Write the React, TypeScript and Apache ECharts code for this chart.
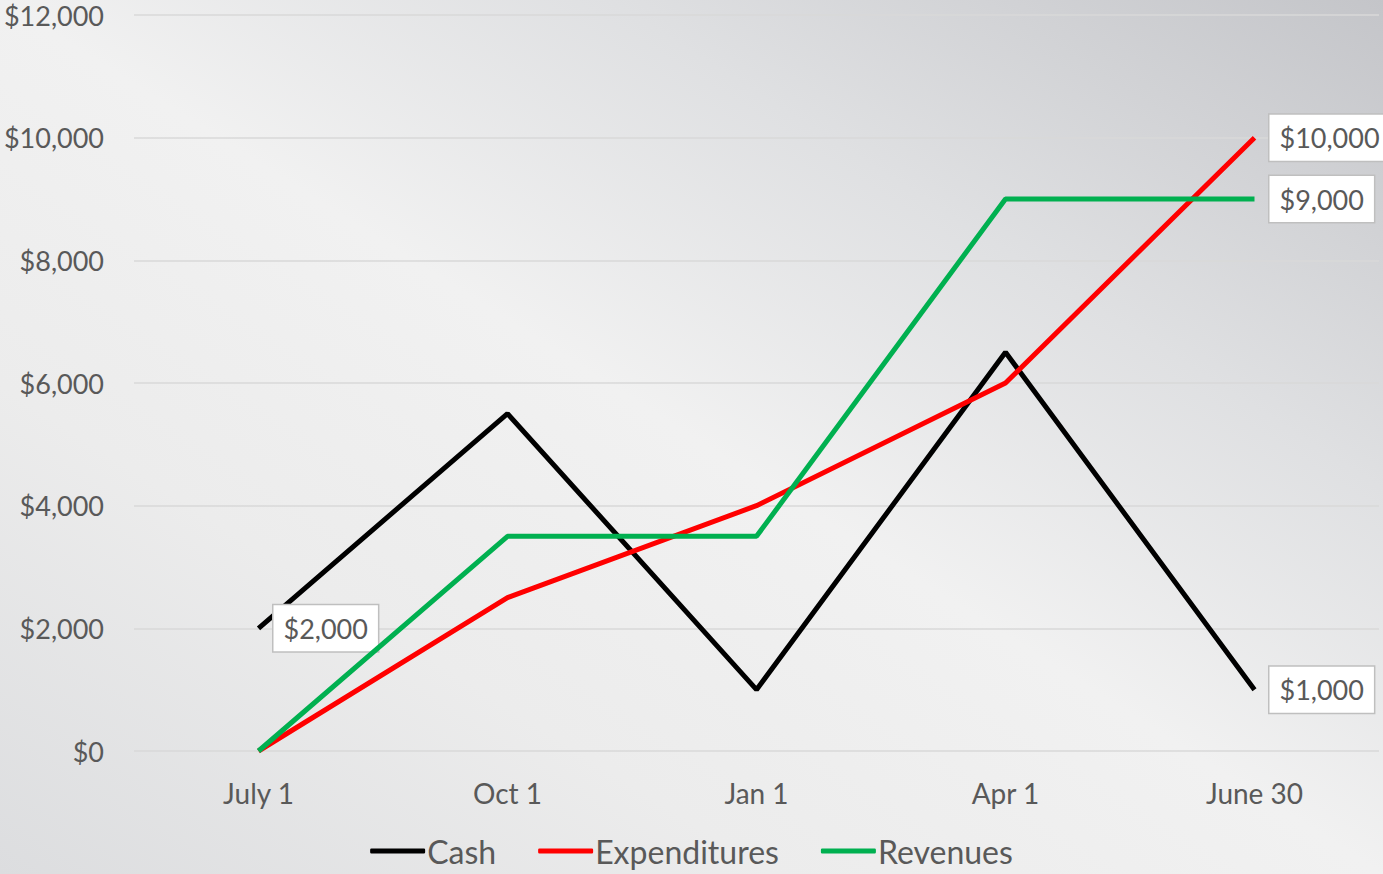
import React, { useEffect, useRef } from "react";
import * as echarts from "echarts";

const categories = ["July 1", "Oct 1", "Jan 1", "Apr 1", "June 30"];
const cashValues = [2000, 5500, 1000, 6500, 1000];
const expenditureValues = [0, 2500, 4000, 6000, 10000];
const revenueValues = [0, 3500, 3500, 9000, 9000];
const cashLabeled = [0, 4];
const expenditureLabeled = [4];
const revenueLabeled = [4];
const seriesNames = ["Cash", "Expenditures", "Revenues"];
const seriesColors = ["#000000", "#ff0000", "#00b050"];

const FONT = "Lato, 'Open Sans', sans-serif";
const fmt = (v: number) => "$" + Number(v).toLocaleString("en-US");

function buildData(values: number[], labeled: number[]) {
  return values.map((v, i) =>
    labeled.includes(i) ? { value: v, label: { show: true } } : { value: v }
  );
}

export default function App() {
  const ref = useRef<HTMLDivElement>(null);
  useEffect(() => {
    if (!ref.current) return;
    const chart = echarts.init(ref.current, undefined, { renderer: "svg" });
    const label = {
      show: false,
      position: "right",
      distance: 15,
      formatter: (p: any) => fmt(p.value),
      fontFamily: FONT,
      fontSize: 27,
      color: "#595959",
      backgroundColor: "#ffffff",
      borderColor: "#bfbfbf",
      borderWidth: 1.5,
      padding: [8, 10, 8, 10],
      lineHeight: 30,
    };
    const datasets = [
      buildData(cashValues, cashLabeled),
      buildData(expenditureValues, expenditureLabeled),
      buildData(revenueValues, revenueLabeled),
    ];
    chart.setOption({
      animation: false,
      backgroundColor: "transparent",
      textStyle: { fontFamily: FONT },
      grid: {
        left: 134,
        right: 4,
        top: 15,
        bottom: 123,
        containLabel: false,
        outerBoundsMode: "none",
      },
      legend: {
        bottom: 2,
        left: "center",
        icon: "roundRect",
        itemWidth: 55,
        itemHeight: 5,
        itemGap: 42,
        textStyle: { fontFamily: FONT, fontSize: 32, color: "#595959", padding: [0, 0, 0, -3] },
        data: seriesNames,
      },
      xAxis: {
        type: "category",
        data: categories,
        boundaryGap: true,
        axisLine: { show: false },
        axisTick: { show: false },
        axisLabel: { fontFamily: FONT, fontSize: 28, color: "#595959", margin: 28 },
        splitLine: { show: false },
      },
      yAxis: {
        type: "value",
        min: 0,
        max: 12000,
        interval: 2000,
        axisLine: { show: false },
        axisTick: { show: false },
        axisLabel: {
          fontFamily: FONT,
          fontSize: 27,
          color: "#595959",
          margin: 30,
          formatter: (v: number) => fmt(v),
        },
        splitLine: { lineStyle: { color: "#d9d9d9", width: 1.5 } },
      },
      series: seriesNames.map((name, i) => ({
        name,
        type: "line",
        data: datasets[i],
        symbol: "circle",
        symbolSize: 0,
        showSymbol: true,
        color: seriesColors[i],
        lineStyle: { color: seriesColors[i], width: 5 },
        label,
        z: 2 + i,
      })),
    });
    return () => chart.dispose();
  }, []);
  return (
    <div
      style={{
        position: "fixed",
        left: 0,
        top: 0,
        width: 1383,
        height: 874,
        background:
          "linear-gradient(to bottom left, #c4c5c9 0%, #dfe0e2 28%, #f1f1f1 50%, #ececec 72%, #dcdddf 100%)",
      }}
    >
      <div ref={ref} style={{ width: 1383, height: 874 }} />
    </div>
  );
}
